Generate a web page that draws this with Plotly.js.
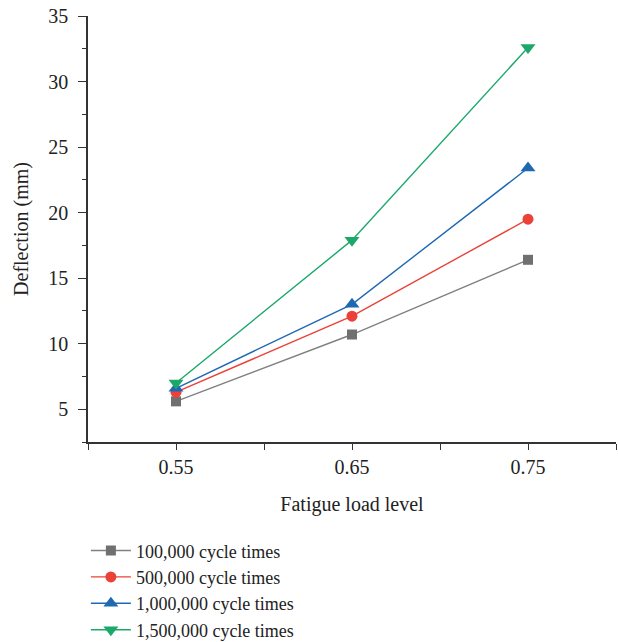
<!DOCTYPE html>
<html><head><meta charset="utf-8">
<script src="https://cdn.plot.ly/plotly-3.0.1.min.js"></script>
<style>body{margin:0;background:#fff}#chart{width:618px;height:642px}</style>
</head><body><div id="chart"></div>
<script>
const loadLevels = [0.55, 0.65, 0.75];
const seriesNames = ["100,000 cycle times", "500,000 cycle times", "1,000,000 cycle times", "1,500,000 cycle times"];
const deflection100k = [5.6, 10.7, 16.4];
const deflection500k = [6.3, 12.1, 19.5];
const deflection1000k = [6.6, 13.0, 23.4];
const deflection1500k = [7.0, 17.9, 32.6];
const xTickVals = [0.5, 0.55, 0.6, 0.65, 0.7, 0.75, 0.8];
const xTickText = ["", "0.55", "", "0.65", "", "0.75", ""];

const colors = ["#707070", "#ea4238", "#1f69b3", "#1ca86b"];
const lineColors = ["#808080", "#ea4238", "#1f69b3", "#1ca86b"];
const symbols = ["square", "circle", "triangle-up", "triangle-down"];
const sizes = [10, 11, 13, 13];
const data = [deflection100k, deflection500k, deflection1000k, deflection1500k].map((ys, i) => ({
  x: loadLevels, y: ys, name: seriesNames[i], type: "scatter", mode: "lines+markers",
  line: {color: lineColors[i], width: 1.4},
  marker: {color: colors[i], symbol: symbols[i], size: sizes[i]}
}));
const fam = "Liberation Serif, DejaVu Serif, serif";
const font = {family: fam, size: 20, color: "#222"};
const layout = {
  width: 618, height: 642,
  margin: {l: 88, r: 2, t: 16, b: 200, autoexpand: false},
  paper_bgcolor: "#fff", plot_bgcolor: "#fff",
  font: font,
  showlegend: true,
  legend: {x: -0.004, y: -0.212, xanchor: "left", yanchor: "top", font: {family: fam, size: 18, color: "#222"},
           itemwidth: 40, tracegroupgap: 0, bgcolor: "rgba(0,0,0,0)"},
  xaxis: {range: [0.5, 0.8], tickvals: xTickVals, ticktext: xTickText, ticks: "outside", ticklen: 6, tickwidth: 1.3,
          tickfont: {family: fam, size: 20, color: "#222"},
          tickcolor: "#333", showline: true, linecolor: "#333", linewidth: 1.6, showgrid: false, zeroline: false,
          title: {text: "Fatigue load level", font: {family: fam, size: 20, color: "#222"}, standoff: 20}},
  yaxis: {range: [2.5, 35], tickvals: [5, 10, 15, 20, 25, 30, 35], ticks: "outside", ticklen: 8, tickwidth: 1.3,
          ticklabelstandoff: 6,
          tickfont: {family: fam, size: 20, color: "#222"},
          tickcolor: "#333", showline: true, linecolor: "#333", linewidth: 1.6, showgrid: false, zeroline: false,
          minor: {tickvals: [2.5, 7.5, 12.5, 17.5, 22.5, 27.5, 32.5], ticks: "outside", ticklen: 4, tickcolor: "#333", tickwidth: 1.2},
          title: {text: "Deflection (mm)", font: {family: fam, size: 20, color: "#222"}, standoff: 14}}
};
Plotly.newPlot("chart", data, layout, {displayModeBar: false});
</script></body></html>
